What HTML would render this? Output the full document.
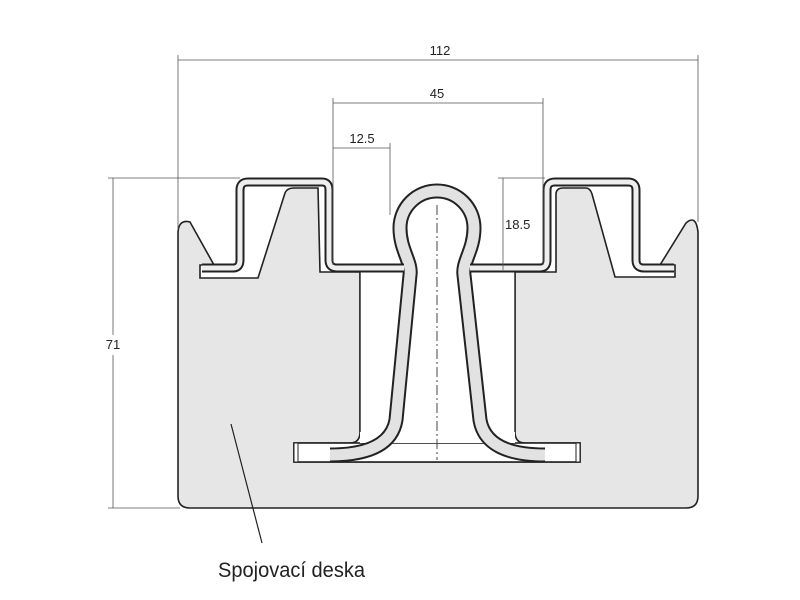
<!DOCTYPE html>
<html><head><meta charset="utf-8"><style>
html,body{margin:0;padding:0;background:#fff;}
svg{display:block;}
text{font-family:"Liberation Sans",sans-serif;}
</style></head><body>
<svg width="800" height="600" viewBox="0 0 800 600">
<!-- body -->
<path d="M178,232 Q179,219 190,222 L214,265 L200,265 L200,278 L258,278 L285,193 Q287,188 294,188 L318,188 L320,272 L360,272 L360,432 Q360,443 350,443 L294,443 L294,462 L580,462 L580,443 L525,443 Q515,443 515,432 L515,272 L556,272 L556,193 Q557,188 563,188 L586,188 Q590,188 592,194 L615,277 L675,277 L675,265 L660,265 L686,223 Q696,214 698,232 L698,496 Q698,508 686,508 L190,508 Q178,508 178,496 Z" fill="#e6e6e6" stroke="#222" stroke-width="1.6"/>
<!-- flange inner -->
<rect x="294" y="443" width="286" height="19" fill="#fff" stroke="#222" stroke-width="1.6"/>
<rect x="360" y="272" width="155" height="171" fill="#fff"/>
<line x1="360" y1="272" x2="360" y2="432" stroke="#222" stroke-width="1.4"/>
<line x1="515" y1="272" x2="515" y2="432" stroke="#222" stroke-width="1.4"/>
<!-- centerline -->
<line x1="437" y1="205" x2="437" y2="460" stroke="#444" stroke-width="1" stroke-dasharray="10,3,2,3"/>
<!-- clip -->
<g fill="none" stroke-linejoin="round">
<path d="M330,455 Q390,455 396,420 L410,275 C412,262 400,250 400,228 A37,37 0 1 1 474,228 C474,250 462,262 464,275 L480,420 Q486,455 545,455" stroke="#222" stroke-width="15"/>
<path d="M330,455 Q390,455 396,420 L410,275 C412,262 400,250 400,228 A37,37 0 1 1 474,228 C474,250 462,262 464,275 L480,420 Q486,455 545,455" stroke="#e2e2e2" stroke-width="11"/>
<path d="M202,268 L233,268 Q240,268 240,260 L240,190 Q240,182 248,182 L322,182 Q329,182 329,190 L329,260 Q329,268 337,268 L404,268 M470,268 L540,268 Q547,268 547,260 L547,190 Q547,182 555,182 L628,182 Q636,182 636,190 L636,260 Q636,268 644,268 L674,268" stroke="#222" stroke-width="9"/>
<path d="M202,268 L233,268 Q240,268 240,260 L240,190 Q240,182 248,182 L322,182 Q329,182 329,190 L329,260 Q329,268 337,268 L404,268 M470,268 L540,268 Q547,268 547,260 L547,190 Q547,182 555,182 L628,182 Q636,182 636,190 L636,260 Q636,268 644,268 L674,268" stroke="#eee" stroke-width="5"/>
</g>
<rect x="294" y="443" width="4" height="19" fill="#fff" stroke="#222" stroke-width="1"/>
<rect x="576" y="443" width="4" height="19" fill="#fff" stroke="#222" stroke-width="1"/>
<!-- dimensions -->
<g stroke="#555" stroke-width="0.8" fill="none">
<line x1="178" y1="55" x2="178" y2="230"/><line x1="698" y1="55" x2="698" y2="222"/>
<line x1="178" y1="60" x2="698" y2="60"/>
<line x1="333" y1="98" x2="333" y2="265"/><line x1="543" y1="98" x2="543" y2="265"/>
<line x1="333" y1="103" x2="543" y2="103"/>
<line x1="390" y1="143" x2="390" y2="215"/>
<line x1="333" y1="148" x2="390" y2="148"/>
<line x1="498" y1="178" x2="545" y2="178"/>
<line x1="503" y1="178" x2="503" y2="270"/>
<line x1="108" y1="178" x2="240" y2="178"/>
<line x1="108" y1="508" x2="180" y2="508"/>
<line x1="113" y1="178" x2="113" y2="335"/><line x1="113" y1="355" x2="113" y2="508"/>
</g>
<g font-size="13" fill="#222" text-anchor="middle">
<text x="440" y="55">112</text>
<text x="437" y="98">45</text>
<text x="362" y="143">12.5</text>
<text x="505" y="229" text-anchor="start" x="506">18.5</text>
<text x="113" y="349">71</text>
</g>
<line x1="231" y1="424" x2="262" y2="543" stroke="#222" stroke-width="1.2"/>
<text x="218" y="577" font-size="21" fill="#222" textLength="147" lengthAdjust="spacingAndGlyphs">Spojovací deska</text>
</svg>
</body></html>
